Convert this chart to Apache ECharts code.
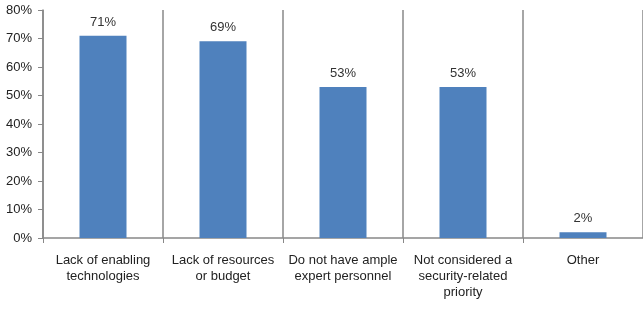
<!DOCTYPE html>
<html>
<head>
<meta charset="utf-8">
<script src="https://cdn.jsdelivr.net/npm/echarts@6/dist/echarts.min.js"></script>
<style>
  html, body { margin: 0; padding: 0; background: #fff; }
  #chart { width: 643px; height: 312px; }
</style>
</head>
<body>
<div id="chart"></div>
<script>
// categories and values
const categories = [
  "Lack of enabling\ntechnologies",
  "Lack of resources\nor budget",
  "Do not have ample\nexpert personnel",
  "Not considered a\nsecurity-related\npriority",
  "Other"
];
const values = [71, 69, 53, 53, 2];
const yTicks = [0, 10, 20, 30, 40, 50, 60, 70, 80];

const myChart = echarts.init(document.getElementById("chart"));
const option = {
  animation: false,
  textStyle: { fontFamily: "Liberation Sans, Arial, sans-serif" },
  grid: { left: 43, right: -3, top: 10, bottom: 74 },
  xAxis: {
    type: "category",
    data: categories,
    axisLine: { lineStyle: { color: "#888", width: 1.5 } },
    axisTick: { show: true, length: 5, lineStyle: { color: "#888" } },
    splitLine: { show: true, lineStyle: { color: "#888", width: 1.5 } },
    axisLabel: {
      color: "#222",
      fontSize: 13,
      lineHeight: 16,
      margin: 14,
      interval: 0
    }
  },
  yAxis: {
    type: "value",
    min: yTicks[0],
    max: yTicks[yTicks.length - 1],
    interval: 10,
    axisLine: { show: true, lineStyle: { color: "#888", width: 1.5 } },
    axisTick: { show: true, length: 5, lineStyle: { color: "#888" } },
    splitLine: { show: false },
    axisLabel: {
      color: "#222",
      fontSize: 13,
      margin: 11,
      formatter: (v) => v + "%"
    }
  },
  series: [
    {
      type: "bar",
      data: values,
      barWidth: 47,
      itemStyle: { color: "#4f81bd" },
      label: {
        show: true,
        position: "top",
        distance: 7,
        color: "#333",
        fontSize: 13,
        formatter: (p) => p.value + "%"
      }
    }
  ]
};
myChart.setOption(option);
</script>
</body>
</html>
